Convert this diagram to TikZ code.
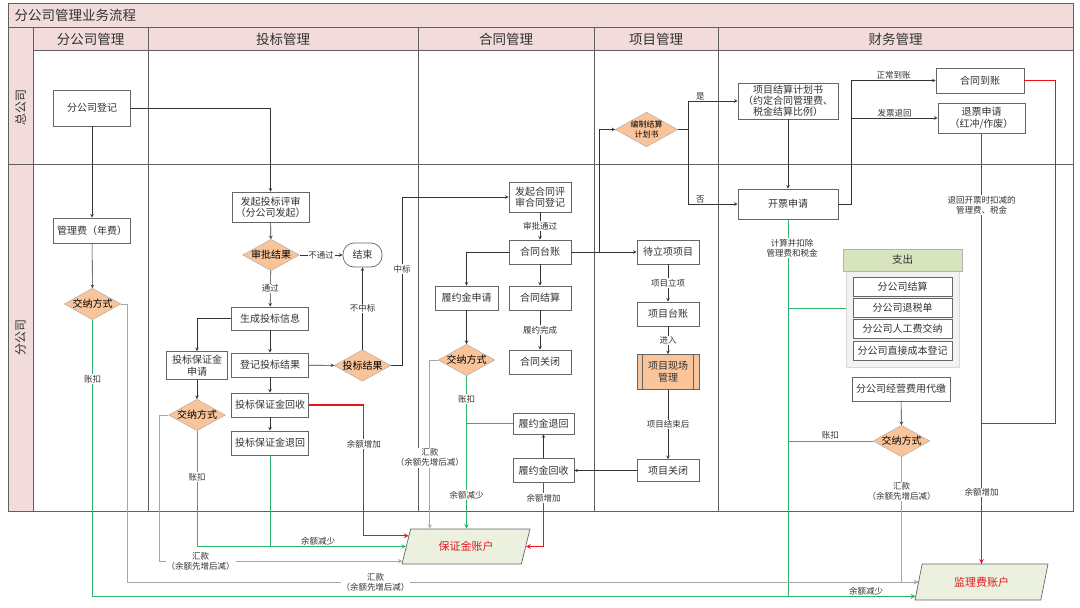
\documentclass[tikz,border=0pt]{standalone}
\usepackage{fontspec}
\setmainfont{Noto Sans CJK SC}
\usepackage{xcolor}
\usepackage{tikz}
\usetikzlibrary{shapes.geometric,calc}
\definecolor{lanepink}{HTML}{F2DCDB}
\definecolor{laneline}{HTML}{5F5F5F}
\definecolor{decfill}{HTML}{F9C49A}
\definecolor{acctfill}{HTML}{EBF1DE}
\definecolor{grphead}{HTML}{D7E4BD}
\definecolor{grpbody}{HTML}{F2F2F2}
\definecolor{paygreen}{HTML}{2DB36A}
\definecolor{payred}{HTML}{E8141C}
\definecolor{paygrey}{HTML}{A6A6A6}
\definecolor{txt}{HTML}{333333}

\begin{document}
\begin{tikzpicture}[x=1pt, y=-1pt,
        lane/.style={draw=laneline, line width=0.9pt},
        head/.style={text=txt, font=\fontsize{13.5}{15}\selectfont},
        class/.style={rectangle, draw=gray!80!black, fill=white, line width=0.7pt, minimum width=77pt, minimum height=24pt, inner sep=1pt, align=center, text=txt, font=\fontsize{10}{11.5}\selectfont},
        decision/.style={diamond, aspect=1.8, draw=gray!70, fill=decfill, inner sep=0pt, align=center, text=black, font=\fontsize{10}{11}\selectfont},
        account/.style={trapezium, trapezium stretches body, draw=gray!80!black, line width=0.7pt, fill=acctfill, text=payred, font=\fontsize{11}{12}\selectfont},
        lbl/.style={fill=white, inner sep=0.8pt, align=center, text=txt, font=\fontsize{8.5}{10}\selectfont},
        arrow/.style={->, >=stealth, draw=black!80, line width=0.6pt},
        grn/.style={->, >=stealth, draw=paygreen, line width=1pt},
        grnline/.style={draw=paygreen, line width=1pt},
        gry/.style={->, >=stealth, draw=paygrey, line width=0.9pt},
        rd/.style={->, >=stealth, draw=payred, line width=1.1pt},
        rdline/.style={draw=payred, line width=0.9pt}
    ]
        \useasboundingbox (0,0) rectangle (1080,608);

        \fill[lanepink] (8,3) rectangle (1073,27);
        \fill[lanepink] (33,27) rectangle (1073,50);
        \fill[lanepink] (8,27) rectangle (33,511);
        \draw[lane] (8,3) rectangle (1073,511);
        \draw[lane] (8,27) -- (1073,27);
        \draw[lane] (33,50) -- (1073,50);
        \draw[lane] (8,164) -- (1073,164);
        \foreach \x in {33,148,418,594,718}
            \draw[lane] (\x,27) -- (\x,511);

        \node[head, anchor=west] (title) at (11,15) {分公司管理业务流程};
        \node[head] (hbranch) at (90.5,39) {分公司管理};
        \node[head] (hbid) at (283,39) {投标管理};
        \node[head] (hcontract) at (506,39) {合同管理};
        \node[head] (hproject) at (656,39) {项目管理};
        \node[head] (hfinance) at (895.5,39) {财务管理};
        \node[head, rotate=90, font=\fontsize{12}{14}\selectfont] (rhq) at (20.5,107) {总公司};
        \node[head, rotate=90, font=\fontsize{12}{14}\selectfont] (rbranch) at (20.5,337) {分公司};

        \node[class, minimum height=36pt] (reg) at (92,108) {分公司登记};
        \node[class, minimum height=25pt] (fee) at (92,230.5) {管理费（年费）};
        \node[decision] (pay1) at (92.5,304) {交纳方式};

        \node[class, minimum height=30pt] (bidrev) at (270.5,207) {发起投标评审\\（分公司发起）};
        \node[decision] (chk) at (271,255) {审批结果};
        \node[class, rounded corners=11pt, minimum width=39pt] (end) at (362.5,255) {结束};
        \node[class, minimum height=23pt] (geninfo) at (270,318.5) {生成投标信息};
        \node[class, minimum width=61pt, minimum height=28pt] (bidapp) at (197,365.5) {投标保证金\\申请};
        \node[class] (bidreg) at (270,365) {登记投标结果};
        \node[decision] (bidres) at (362.5,365.5) {投标结果};
        \node[decision] (pay2) at (197,415) {交纳方式};
        \node[class] (bidrecv) at (270,405) {投标保证金回收};
        \node[class] (bidret) at (270,443) {投标保证金退回};

        \node[class, minimum width=62pt, minimum height=30pt] (crev) at (540,197) {发起合同评\\审合同登记};
        \node[class, minimum width=62pt] (cledger) at (540,252) {合同台账};
        \node[class, minimum width=63pt] (pfapp) at (466.5,298) {履约金申请};
        \node[class, minimum width=62pt] (csettle) at (540,298) {合同结算};
        \node[decision] (pay3) at (466.5,360) {交纳方式};
        \node[class, minimum width=62pt] (cclose) at (540,362) {合同关闭};
        \node[class, minimum width=61pt, minimum height=21pt] (pfret) at (543.5,423.5) {履约金退回};
        \node[class, minimum width=61pt] (pfrecv) at (543.5,470.5) {履约金回收};

        \node[class, minimum width=62pt] (pending) at (668,252) {待立项项目};
        \node[class, minimum width=62pt] (pledger) at (668,314) {项目台账};
        \node[class, fill=decfill, minimum width=62pt, minimum height=35pt] (site) at (668,372) {项目现场\\管理};
        \draw[gray!80!black, line width=0.7pt] ([xshift=6pt]site.north west) -- ([xshift=6pt]site.south west);
        \draw[gray!80!black, line width=0.7pt] ([xshift=-6pt]site.north east) -- ([xshift=-6pt]site.south east);
        \node[class, minimum width=62pt, minimum height=22pt] (pclose) at (668,470.5) {项目关闭};
        \node[decision, font=\fontsize{8}{9.5}\selectfont] (plan) at (646.5,129.5) {编制结算\\计划书};

        \node[class, minimum width=100pt, minimum height=36pt, font=\fontsize{10}{11}\selectfont] (settleplan) at (788,101) {项目结算计划书\\（约定合同管理费、\\税金结算比例）};
        \node[class, minimum width=100pt, minimum height=30pt] (inv) at (788,204) {开票申请};
        \node[class, minimum width=88pt, minimum height=25pt] (arrive) at (980,80.5) {合同到账};
        \node[class, minimum width=87pt, minimum height=30pt] (refund) at (981.5,118) {退票申请\\（红冲/作废）};
        \node[fill=grpbody, draw=gray!30, minimum width=113pt, minimum height=118pt] (grp) at (902.5,308) {};
        \node[draw=gray!60, fill=grphead, minimum width=119pt, minimum height=22pt, text=txt, font=\fontsize{10.5}{12}\selectfont] (grphd) at (902.5,260) {支出};
        \node[class, minimum width=99pt, minimum height=19pt] (out1) at (902.5,286.5) {分公司结算};
        \node[class, minimum width=99pt, minimum height=19pt] (out2) at (902.5,307.5) {分公司退税单};
        \node[class, minimum width=99pt, minimum height=19pt] (out3) at (902.5,329) {分公司人工费交纳};
        \node[class, minimum width=99pt, minimum height=19pt] (out4) at (902.5,351) {分公司直接成本登记};
        \node[class, minimum width=98pt] (opfee) at (901,389) {分公司经营费用代缴};
        \node[decision] (pay4) at (901.5,441) {交纳方式};

        \node[account, trapezium left angle=63, trapezium right angle=117, minimum width=128pt, minimum height=35pt] (acct1) at (466,546.5) {保证金账户};
        \node[account, trapezium left angle=67, trapezium right angle=113, minimum width=133pt, minimum height=36pt] (acct2) at (981.5,582) {监理费账户};

        \draw[arrow] (reg) -- (fee);
        \draw[arrow] (reg.east) -| (bidrev.north);
        \draw[arrow] (fee) -- (pay1);
        \draw[arrow] (bidrev) -- (chk);
        \draw[arrow] (chk) -- node[lbl] {不通过} (end);
        \draw[arrow] (chk) -- node[lbl] {通过} (geninfo);
        \draw[arrow] (geninfo.west) -| (bidapp.north);
        \draw[arrow] (geninfo) -- (bidreg);
        \draw[arrow] (bidreg) -- (bidres);
        \draw[arrow] (bidres) -- node[lbl] {不中标} (end);
        \draw[arrow] (bidres.east) -- ++(11,0) |- node[lbl, pos=0.286] {中标} (crev.west);
        \draw[arrow] (bidreg) -- (bidrecv);
        \draw[arrow] (bidrecv) -- (bidret);
        \draw[arrow] (bidapp) -- (pay2);
        \draw[grn] (pay2.south) |- node[lbl, pos=0.2] {账扣} node[lbl, pos=0.79, anchor=south, fill=none] {余额减少} ($(acct1.bottom left corner)!0.5!(acct1.top left corner)$);
        \draw[grnline] (bidret.south) -- (bidret.south |- acct1);
        \draw[gry] (pay2.west) -- ++(-9,0) |- node[lbl, pos=0.585] {汇款\\（余额先增后减）} ($(acct1.bottom left corner)!0.09!(acct1.top left corner)$);
        \draw[rd] (bidrecv.east) -- ++(55,0) |- node[lbl, pos=0.15] {余额增加} ($(acct1.bottom left corner)!0.8!(acct1.top left corner)$);

        \draw[arrow] (crev) -- node[lbl] {审批通过} (cledger);
        \draw[arrow] (cledger) -- (csettle);
        \draw[arrow] (cledger.west) -| (pfapp.north);
        \draw[arrow] (cledger) -- (pending);
        \draw[arrow] (cledger.east) -- ++(28,0) |- (plan.west);
        \draw[arrow] (csettle) -- node[lbl] {履约完成} (cclose);
        \draw[arrow] (pfapp) -- (pay3);
        \draw[grn] (pay3.south) -- node[lbl, pos=0.15] {账扣} node[lbl, pos=0.78] {余额减少} (pay3.south |- acct1.north);
        \draw[grnline] (pfret.west) -- (pfret.west -| pay3.south);
        \draw[gry] (pay3.west) -| node[lbl, pos=0.79] {汇款\\（余额先增后减）} ([xshift=-8pt]pay3.west |- acct1.north);
        \draw[arrow] (pfrecv) -- (pfret);
        \draw[rd] (pfrecv.south) |- node[lbl, pos=0.12] {余额增加} ($(acct1.bottom right corner)!0.5!(acct1.top right corner)$);

        \draw[arrow] (pending) -- node[lbl] {项目立项} (pledger);
        \draw[arrow] (pledger) -- node[lbl] {进入} (site);
        \draw[arrow] (site) -- node[lbl] {项目结束后} (pclose);
        \draw[arrow] (pclose) -- (pfrecv);
        \draw[arrow] (plan.east) -- ++(10,0) |- node[lbl, pos=0.625, anchor=south, fill=none] {是} (settleplan.west);
        \draw[arrow] (plan.east) -- ++(10,0) |- node[lbl, pos=0.625, anchor=south, fill=none] {否} (inv.west);

        \draw[arrow] (settleplan) -- (inv);
        \draw[arrow] (inv.east) -- ++(13,0) |- node[lbl, pos=0.75, anchor=south, fill=none] {正常到账} (arrive.west);
        \draw[arrow] (inv.east) -- ++(13,0) |- node[lbl, pos=0.75, anchor=south, fill=none] {发票退回} (refund.west);
        \draw[grn] (inv.south) |- node[lbl, pos=0.038, xshift=4pt] {计算并扣除\\管理费和税金} ($(acct2.bottom left corner)!0.11!(acct2.top left corner)$);
        \draw[grnline] (grp.west) -- (grp.west -| inv.south);
        \draw[grnline] (pay4.west) -- node[lbl, above, fill=none] {账扣} (pay4.west -| inv.south);
        \draw[arrow] (opfee) -- (pay4);
        \draw[gry] (pay4.south) |- node[lbl, pos=0.138] {汇款\\（余额先增后减）} ($(acct2.bottom left corner)!0.5!(acct2.top left corner)$);
        \draw[gry] (pay1.east) -- ++(6,0) |- node[lbl, pos=0.657] {汇款\\（余额先增后减）} ($(acct2.bottom left corner)!0.5!(acct2.top left corner)$);
        \draw[grn] (pay1.south) |- node[lbl, pos=0.107] {账扣} node[lbl, pos=0.97, anchor=south, fill=none] {余额减少} ($(acct2.bottom left corner)!0.11!(acct2.top left corner)$);
        \draw[rdline] (arrive.east) -| ($(arrive.east)+(31,343)$) -| (refund.south |- acct2.north);
        \draw[rd] (refund.south) -- node[lbl, pos=0.167] {退回开票时扣减的\\管理费、税金} node[lbl, pos=0.835] {余额增加} (refund.south |- acct2.north);
    \end{tikzpicture}
\end{document}
